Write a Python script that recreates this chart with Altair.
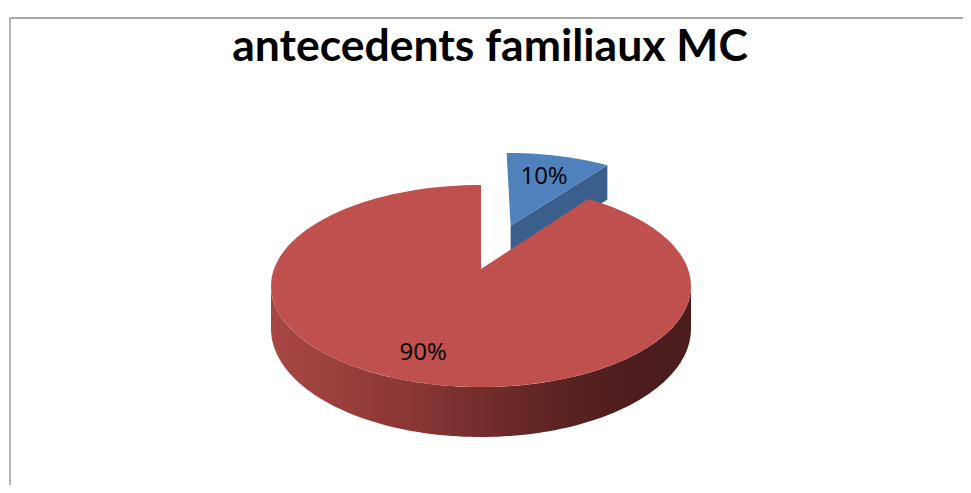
import altair as alt
import pandas as pd

# ---- data ----
categories = ["oui", "non"]
values = [10, 90]
colors_top = ["#4F81BD", "#C0504D"]
colors_dark = ["#3A5F8C", "#8C3836"]
TITLE = "antecedents familiaux MC"

# ---- style / geometry (3D pie projection) ----
EXPLODE = [0.5, 0.0]
LABEL_R = [0.67, 0.79]
K = 0.168          # perspective strength
H = 0.4236         # pie thickness (y units)
N = 120            # points per arc
W, HGT = 955, 477
CX, CY, AX, AY = 481.0, 269.0, 207.0, 98.2   # page pixel centre and unit sizes
X_DOMAIN = [(8 - CX) / AX, (8 + W - CX) / AX]
Y_DOMAIN = [(CY - 8 - HGT) / AY, (CY - 8) / AY]

df = pd.DataFrame({"category": categories, "value": values,
                   "explode": EXPLODE, "label_r": LABEL_R})

xs = alt.Scale(domain=X_DOMAIN, nice=False, zero=False)
ys = alt.Scale(domain=Y_DOMAIN, nice=False, zero=False)


def project(ch):
    return ch.transform_calculate(
        d=f"1/(1 + {K}*datum.Z)"
    ).transform_calculate(
        px="datum.X*datum.d",
        py="(datum.Z - datum.drop)*datum.d",
    )


base = alt.Chart(df).transform_joinaggregate(
    total="sum(value)"
).transform_window(
    cum="sum(value)", frame=[None, 0]
).transform_calculate(
    a0="2*PI*(datum.cum - datum.value)/datum.total",
    a1="2*PI*datum.cum/datum.total",
).transform_calculate(
    mid="(datum.a0 + datum.a1)/2",
    pct="format(datum.value/datum.total, '.0%')",
).transform_calculate(
    ex="datum.explode*sin(datum.mid)",
    ez="datum.explode*cos(datum.mid)",
)

enc_xy = dict(
    x=alt.X("px:Q", scale=xs, axis=None),
    y=alt.Y("py:Q", scale=ys, axis=None),
)

# top faces
top = project(
    base.transform_calculate(pts=f"sequence(0, {N + 2})")
    .transform_flatten(["pts"], as_=["idx"])
    .transform_calculate(
        t=f"datum.a0 + (datum.a1 - datum.a0)*max(datum.idx - 1, 0)/{N}",
        drop="0",
    )
    .transform_calculate(
        X="datum.idx == 0 ? datum.ex : datum.ex + sin(datum.t)",
        Z="datum.idx == 0 ? datum.ez : datum.ez + cos(datum.t)",
    )
).mark_line(filled=True, strokeWidth=0).encode(
    color=alt.Color("category:N", scale=alt.Scale(domain=categories, range=colors_top), legend=None),
    order="idx:Q",
    **enc_xy,
)

# outer side (front part)
SIL = f"acos(-{K})"
side = project(
    base.transform_calculate(
        s0=f"max(datum.a0, {SIL})",
        s1=f"min(datum.a1, 2*PI - {SIL})",
    )
    .transform_filter("datum.s1 > datum.s0")
    .transform_calculate(pts=f"sequence(0, {2 * N + 2})")
    .transform_flatten(["pts"], as_=["idx"])
    .transform_calculate(
        drop=f"datum.idx > {N} ? {H} : 0",
        t=f"datum.idx <= {N} ? datum.s0 + (datum.s1 - datum.s0)*datum.idx/{N} : datum.s1 - (datum.s1 - datum.s0)*(datum.idx - {N + 1})/{N}",
    )
    .transform_calculate(
        X="datum.ex + sin(datum.t)",
        Z="datum.ez + cos(datum.t)",
    )
).mark_line(
    filled=True, strokeWidth=0,
    color=alt.Gradient(
        gradient="linear", x1=0, x2=1, y1=0, y2=0,
        stops=[
            alt.GradientStop(color="#A84744", offset=0),
            alt.GradientStop(color="#8A3735", offset=0.33),
            alt.GradientStop(color="#5E2423", offset=0.66),
            alt.GradientStop(color="#4D1D1D", offset=0.85),
            alt.GradientStop(color="#4A1C1C", offset=1),
        ],
    ),
).encode(
    detail="category:N",
    order="idx:Q",
    **enc_xy,
)

# radial cut faces that face the viewer
cuts = project(
    base.transform_calculate(faces="[0, 1]")
    .transform_flatten(["faces"], as_=["face"])
    .transform_filter("(datum.face == 0 && sin(datum.a1) > 1e-6) || (datum.face == 1 && sin(datum.a0) < -1e-6)")
    .transform_calculate(th="datum.face == 0 ? datum.a1 : datum.a0", key="datum.category + '_' + datum.face")
    .transform_calculate(pts="sequence(0, 4)")
    .transform_flatten(["pts"], as_=["idx"])
    .transform_calculate(
        rim="datum.idx == 1 || datum.idx == 2 ? 1 : 0",
        drop=f"datum.idx >= 2 ? {H} : 0",
    )
    .transform_calculate(
        X="datum.ex + datum.rim*sin(datum.th)",
        Z="datum.ez + datum.rim*cos(datum.th)",
    )
).mark_line(filled=True, strokeWidth=0).encode(
    color=alt.Color("category:N", scale=alt.Scale(domain=categories, range=colors_dark), legend=None),
    detail="key:N",
    order="idx:Q",
    **enc_xy,
)

labels = project(
    base.transform_calculate(
        X="datum.ex + datum.label_r*sin(datum.mid)",
        Z="datum.ez + datum.label_r*cos(datum.mid)",
        drop="0",
    )
).mark_text(font="Open Sans", fontSize=24, color="black").encode(
    text="pct:N",
    **enc_xy,
)

frame_data = alt.Data(values=[{"title": TITLE}])
frame_left = alt.Chart(frame_data).mark_rule(color="#8E8E8E", strokeWidth=1.3).encode(
    x=alt.value(2), y=alt.value(10), y2=alt.value(HGT)
)
frame_top = alt.Chart(frame_data).mark_rule(color="#8E8E8E", strokeWidth=1.3).encode(
    x=alt.value(2), x2=alt.value(W), y=alt.value(10)
)
title = alt.Chart(frame_data).mark_text(
    font="Lato", fontSize=44.5, fontWeight="bold", color="black",
    align="center", baseline="alphabetic",
).encode(x=alt.value(482), y=alt.value(53), text="title:N")

chart = alt.layer(frame_left, frame_top, title, cuts, side, top, labels).resolve_scale(
    color="independent"
).properties(
    width=W, height=HGT, autosize="none", padding=0,
).configure_view(strokeWidth=0)

chart.save("out.html", embed_options={"renderer": "svg", "actions": False})
